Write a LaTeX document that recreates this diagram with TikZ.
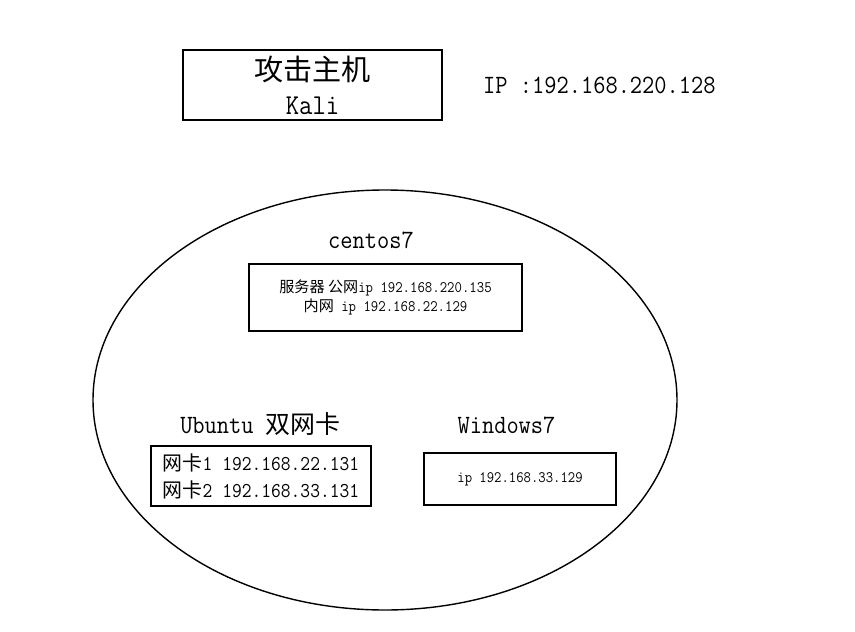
\documentclass[tikz,border=0pt]{standalone}
\usepackage{fontspec}
\setmainfont[FakeStretch=0.9]{Latin Modern Mono}
\newfontfamily\cjk[Scale=0.945]{Noto Sans CJK SC}
\usetikzlibrary{shapes.geometric}
\begin{document}
\begin{tikzpicture}[x=1pt,y=-1pt,
  box/.style={draw=black,line width=1.4pt,minimum width=#1,inner sep=0pt,align=center},
  lbl/.style={inner sep=0pt,font=\fontsize{26.4}{30}\selectfont},
  every node/.append style={text=black}]
\useasboundingbox (0,0) rectangle (855,632);
\node[draw=black,line width=1.4pt,ellipse,minimum width=584,minimum height=420,inner sep=0pt] (net) at (385,400) {};
\node[box=259,minimum height=70,font=\fontsize{28.8}{34}\selectfont] (kali) at (312.5,85) {{\fontsize{30.8}{34}\selectfont\cjk 攻击主机}\\Kali};
\node[lbl,anchor=west] (ip) at (483,85) {IP :192.168.220.128};
\node[lbl] (centos) at (371,240) {centos7};
\node[box=273,minimum height=67,font=\fontsize{16}{19}\selectfont] (srv) at (385.5,297.5) {{\cjk 服务器 公网}ip 192.168.220.135\\{\cjk 内网} ip 192.168.22.129};
\node[lbl] (ubt) at (260.5,424) {Ubuntu {\cjk 双网卡}};
\node[box=220,minimum height=60,font=\fontsize{21.1}{27}\selectfont] (ubox) at (261,476) {{\cjk 网卡}1 192.168.22.131\\{\cjk 网卡}2 192.168.33.131};
\node[lbl] (win) at (506.5,425) {Windows7};
\node[box=192,minimum height=52,font=\fontsize{15.9}{15}\selectfont] (wbox) at (520,479) {ip 192.168.33.129};
\end{tikzpicture}
\end{document}
